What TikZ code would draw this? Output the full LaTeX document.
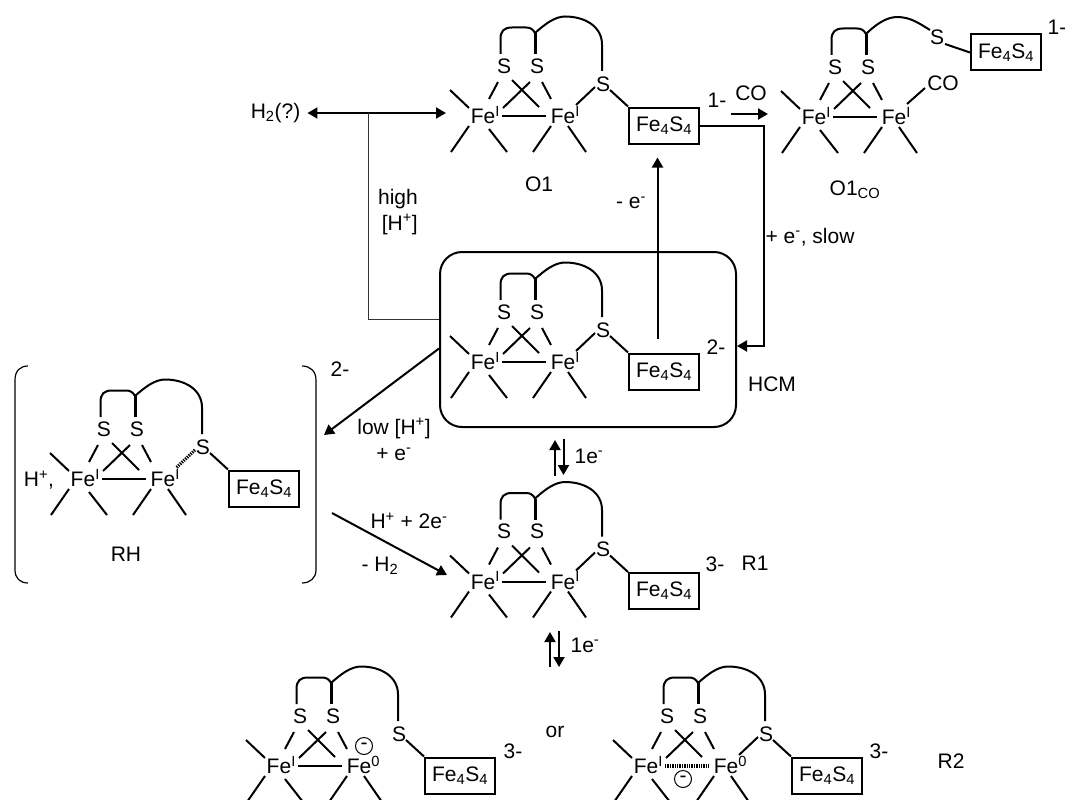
\documentclass[tikz,border=0pt]{standalone}
\usepackage{fontspec}
\setmainfont{Liberation Sans}
\usetikzlibrary{arrows.meta}
\tikzset{
	every node/.style={font=\fontsize{21}{26}\selectfont, inner sep=0pt},
	bond/.style={line width=2pt},
	thickbond/.style={line width=3pt},
	dotbond/.style={line width=3.2pt, dash pattern=on 1.3pt off 1.1pt},
	nobond/.style={draw=none},
	clusterbox/.style={draw, line width=2pt, minimum width=70pt, minimum height=36pt},
	minuscircle/.style={draw, circle, line width=1pt, minimum size=17pt},
	arrow/.style={line width=2pt, -{Triangle[length=10pt,width=11pt]}},
	bracket/.style={line width=1.2pt},
}
% two Fe, two S and the ligands: name, position, superscript of second Fe, style of Fe-Fe bond
\newcommand{\fecore}[4]{
	\begin{scope}[shift={(#2)}]
		\node (#1fe1) at (-2,0) {Fe\rlap{\textsuperscript{I}}};
		\node (#1fe2) at (78,0) {Fe\rlap{\textsuperscript{#3}}};
		\node (#1s1) at (19,-49) {S};
		\node (#1s2) at (52,-49) {S};
		\draw[bond] ([shift={(-33,-25)}]#1fe1.center) -- ([shift={(-14,-7)}]#1fe1.center);
		\draw[bond] ([shift={(-14,11)}]#1fe1.center) -- ([shift={(-32,37)}]#1fe1.center);
		\draw[bond] ([shift={(6,14)}]#1fe1.center) -- ([shift={(24,37)}]#1fe1.center);
		\draw[bond] ([shift={(-12,11)}]#1fe2.center) -- ([shift={(-30,37)}]#1fe2.center);
		\draw[bond] ([shift={(5,11)}]#1fe2.center) -- ([shift={(23,37)}]#1fe2.center);
		\draw[#4] ([shift={(19,1)}]#1fe1.center) -- ([shift={(-17,1)}]#1fe2.center);
		\draw[bond] ([shift={(-6,16)}]#1s1.center) -- ([shift={(6,-16)}]#1fe1.center);
		\draw[bond] ([shift={(-7,16)}]#1s2.center) -- ([shift={(20,-7)}]#1fe1.center);
		\draw[bond] ([shift={(8,14)}]#1s1.center) -- ([shift={(-24,-8)}]#1fe2.center);
		\draw[bond] ([shift={(5,16)}]#1s2.center) -- ([shift={(-12,-16)}]#1fe2.center);
		\draw[thickbond] ([shift={(-2,-12)}]#1s2.center) -- ([shift={(-2,-33)}]#1s2.center);
		\draw[bond] ([shift={(-3.5,-12)}]#1s1.center) -- ++(0,-15) .. controls +(0,-8) and +(-8,0) .. ++(11.5,-11.5) -- ++(14,0) .. controls +(4,0) and +(-2,-4) .. ([shift={(-2,-33)}]#1s2.center);
	\end{scope}
}
% third S with the Fe4S4 box: name, position, style of the bond to the second Fe
\newcommand{\fearm}[3]{
	\begin{scope}[shift={(#2)}]
		\node (#1s3) at (118,-31) {S};
		\node (#1box) [clusterbox] at (179,10.5) {Fe\textsubscript{4}S\textsubscript{4}};
		\draw[#3] ([shift={(-8,3)}]#1s3.center) -- ([shift={(13,-10)}]#1fe2.center);
		\draw[bond] ([shift={(7,6)}]#1s3.center) -- (#1box.north west);
		\draw[bond] ([shift={(-2,-33)}]#1s2.center) .. controls +(10,-9) and +(-10,0) .. ++(30,-16.5) .. controls +(20,0) and +(0,-18) .. ++(37,28) -- ([shift={(-1,-13)}]#1s3.center);
	\end{scope}
}
\begin{document}
\begin{tikzpicture}[x=1pt, y=-1pt]
	\useasboundingbox (0,0) rectangle (1065,800);

	% O1
	\fecore{oa}{485,115}{I}{bond}
	\fearm{oa}{485,115}{bond}
	\node (oalabel) at (539,184) {O1};
	\node (oacharge) at (717,100) {1-};

	% O1 with CO
	\fecore{ob}{816,116}{I}{bond}
	\node (obs3) at (937,37) {S};
	\node (obbox) [clusterbox] at (1006,52.5) {Fe\textsubscript{4}S\textsubscript{4}};
	\node (obco) at (943,83) {CO};
	\draw[bond] ([shift={(-18,5)}]obco.center) -- ([shift={(13,-12)}]obfe2.center);
	\draw[bond] ([shift={(8,7)}]obs3.center) -- (obbox.west);
	\draw[bond] ([shift={(-2,-33)}]obs2.center) .. controls +(10,-10) and +(-10,0) .. ++(31,-17) .. controls +(14,0) and +(-10,-6) .. ([shift={(-7,-7)}]obs3.center);
	\node (oblabel) at (855,190) {O1\textsubscript{CO}};
	\node (obcharge) at (1057,27) {1-};

	% HCM
	\node (hcm) [draw, line width=2pt, rounded corners=22pt, minimum width=296pt, minimum height=175pt] at (588,339.5) {};
	\fecore{hc}{485,361}{I}{bond}
	\fearm{hc}{485,361}{bond}
	\node (hccharge) at (716,347) {2-};
	\node (hclabel) at (772,384) {HCM};

	% RH
	\fecore{rh}{85,478}{I}{bond}
	\fearm{rh}{85,478}{dotbond}
	\node (rhproton) at (39,480) {H\textsuperscript{+},};
	\node (rhlabel) at (126,554) {RH};
	\node (rhcharge) at (340,369) {2-};
	\draw[bracket] (28,366) .. controls (20,366) and (15,371) .. (15,380) -- (15,570) .. controls (15,578) and (20,583) .. (28,583);
	\draw[bracket] (302,366) .. controls (310,366) and (316,371) .. (316,380) -- (316,570) .. controls (316,578) and (310,583) .. (302,583);

	% R1
	\fecore{ra}{485,580.5}{I}{bond}
	\fearm{ra}{485,580.5}{bond}
	\node (racharge) at (715,564) {3-};
	\node (ralabel) at (755,563) {R1};

	% R2, both forms
	\fecore{rb}{281,765}{0}{bond}
	\fearm{rb}{281,765}{nobond}
	\node (rbminus) [minuscircle] at (364,746) {-};
	\node (rbcharge) at (513,751) {3-};
	\node (orlabel) at (555,732) {or};
	\fecore{rc}{648,765}{0}{dotbond}
	\fearm{rc}{648,765}{bond}
	\node (rcminus) [minuscircle] at (683,779) {-};
	\node (rccharge) at (879,751) {3-};
	\node (rclabel) at (951,761) {R2};

	% connectors
	\node (htwo) at (275.5,113) {H\textsubscript{2}(?)};
	\coordinate (oain) at (446,113);
	\coordinate (junction) at (368,113);
	\coordinate (hcmin) at (hcm.west |- 0,319.5);
	\draw[line width=2pt, {Triangle[length=10pt,width=11pt]}-{Triangle[length=10pt,width=11pt]}] ([xshift=7pt]htwo.east) -- (oain);
	\draw[line width=1pt, black!80] (junction) |- (hcmin);
	\node (highlabel) [align=right, anchor=east] at (418,212) {high\\ {[H\textsuperscript{+}]}};

	\coordinate (cofrom) at (731,114);
	\coordinate (coto) at (768,114);
	\draw[arrow] (cofrom) -- (coto);
	\node (colabel) at (751,93) {CO};

	\coordinate (turn) at (764,346);
	\draw[arrow] (oabox.east) -| (turn) -- (hcm.east |- turn);
	\node (slowlabel) at (810,237) {+ e\textsuperscript{-}, slow};

	\draw[arrow] ([shift={(-6.5,-14)}]hcbox.north) -- ([shift={(-6.5,13)}]oabox.south);
	\node (oxlabel) at (631,203) {- e\textsuperscript{-}};

	\coordinate (rhin) at (324,435);
	\draw[arrow] ([shift={(0,9)}]hcm.west) -- (rhin);
	\node (lowlabel) [align=center] at (394,439.5) {low [H\textsuperscript{+}]\\+ e\textsuperscript{-}};

	\coordinate (rhout) at (332,513);
	\coordinate (rain) at (447,575);
	\draw[arrow] (rhout) -- (rain);
	\node (protonlabel) at (409,521) {H\textsuperscript{+} + 2e\textsuperscript{-}};
	\node (htwolabel) at (380,566) {- H\textsubscript{2}};

	% one-electron steps
	\coordinate (ua) at (555,476);
	\coordinate (ub) at (555,440);
	\coordinate (da) at (563.5,439);
	\coordinate (db) at (563.5,475);
	\draw[arrow] (ua) -- (ub);
	\draw[arrow] (da) -- (db);
	\node (onelabel) at (589,456) {1e\textsuperscript{-}};
	\coordinate (uc) at (550,667);
	\coordinate (ud) at (550,632);
	\coordinate (dc) at (559,631);
	\coordinate (dd) at (559,667);
	\draw[arrow] (uc) -- (ud);
	\draw[arrow] (dc) -- (dd);
	\node (twolabel) at (585,645) {1e\textsuperscript{-}};
\end{tikzpicture}
\end{document}
